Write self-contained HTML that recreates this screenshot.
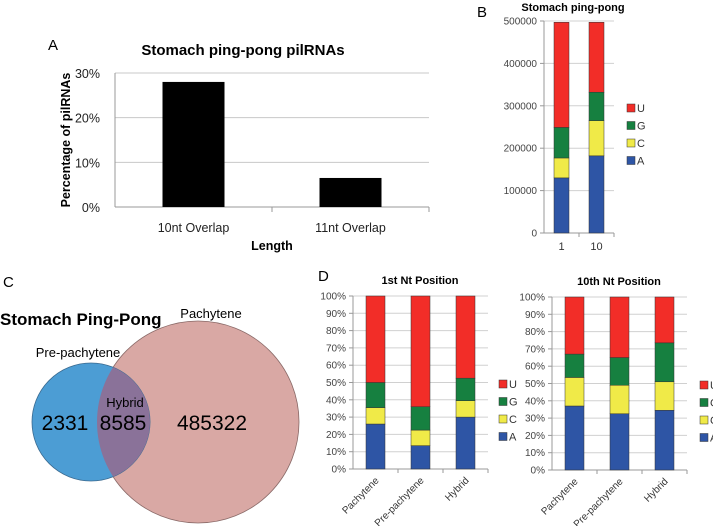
<!DOCTYPE html>
<html><head><meta charset="utf-8"><style>
body{margin:0;background:#fff;width:713px;height:526px;overflow:hidden}
svg{display:block;font-family:"Liberation Sans",sans-serif}
</style></head><body>
<svg id="s" width="713" height="526" xmlns="http://www.w3.org/2000/svg">
<g>
<circle cx="198" cy="422" r="101" fill="#d9a8a4" stroke="#8a6a68" stroke-width="0.8"/>
<circle cx="91" cy="422" r="59" fill="#4c9dd4" stroke="#3a6a90" stroke-width="0.8"/>
<clipPath id="cb"><circle cx="91" cy="422" r="59"/></clipPath>
<circle cx="198" cy="422" r="101" fill="#8a7299" clip-path="url(#cb)"/>
<text x="0" y="325" font-size="17" font-weight="bold">Stomach Ping-Pong</text>
<text x="211" y="318" font-size="13" text-anchor="middle">Pachytene</text>
<text x="78" y="357" font-size="13" text-anchor="middle">Pre-pachytene</text>
<text x="125" y="407" font-size="13" text-anchor="middle">Hybrid</text>
<text x="65" y="430" font-size="21" text-anchor="middle">2331</text>
<text x="123" y="430" font-size="21" text-anchor="middle">8585</text>
<text x="212" y="430" font-size="21" text-anchor="middle">485322</text>
</g>
<text x="3" y="287" font-size="15">C</text>
<text x="48" y="50" font-size="15">A</text>
<text x="477" y="17" font-size="15">B</text>
<text x="318" y="281" font-size="15">D</text>
</svg>
<script>
const NS="http://www.w3.org/2000/svg";
const svg=document.getElementById('s');
function mk(tag,attrs,parent,text){const e=document.createElementNS(NS,tag);for(const k in attrs)e.setAttribute(k,attrs[k]);if(text!==undefined)e.textContent=text;(parent||svg).appendChild(e);return e;}
const COLORS={A:"#2e55a5",C:"#f0ea48",G:"#168040",U:"#f22d28"};

const aCategories=["10nt Overlap","11nt Overlap"];
const aValues=[28,6.5];
const aTicks=[0,10,20,30];
const bCategories=["1","10"];
const bA=[130000,182000];
const bC=[47000,83000];
const bG=[72000,67000];
const bU=[248000,165000];
const bTicks=[0,100000,200000,300000,400000,500000];
const dCategories=["Pachytene","Pre-pachytene","Hybrid"];
const d1A=[26,13.5,30];
const d1C=[9.5,9,9.5];
const d1G=[14.5,13.5,13];
const d1U=[50,64,47.5];
const d2A=[37,32.5,34.5];
const d2C=[16.5,16.5,16.5];
const d2G=[13.5,16,22.5];
const d2U=[33,35,26.5];
const pctTicks=[0,10,20,30,40,50,60,70,80,90,100];

(function(){
 const g=mk('g',{});
 
 
 const x0=115,x1=429,y0=207,y1=73,max=30;
 const y=v=>y0-(v/max)*(y0-y1);
 const t=mk('text',{x:243,y:55,'font-size':15,'font-weight':'bold','text-anchor':'middle'},g,'Stomach ping-pong pilRNAs');
 
 aTicks.forEach(v=>{
  if(v>0){const l=mk('line',{x1:x0,x2:x1,y1:y(v),y2:y(v),stroke:'#c8c8c8'},g);}
  const tl=mk('text',{x:x0-15,y:y(v)+5,'font-size':12.5,'text-anchor':'end',fill:'#222'},g,v+'%');
  
 });
 mk('line',{x1:x0,x2:x0,y1:y1,y2:y0,stroke:'#999'},g);
 mk('line',{x1:x0,x2:x1,y1:y0,y2:y0,stroke:'#999'},g);
 const bw=(x1-x0)/aCategories.length;
 aCategories.forEach((c,i)=>{
  const cx=x0+bw*(i+0.5);
  const r=mk('rect',{x:cx-31,y:y(aValues[i]),width:62,height:y0-y(aValues[i]),fill:'#000'},g);
  
  const tl=mk('text',{x:cx,y:232,'font-size':12.5,'text-anchor':'middle',fill:'#222'},g,c);
  
  mk('line',{x1:x0+bw*(i+1),x2:x0+bw*(i+1),y1:y0,y2:y0+5,stroke:'#999'},g);
 });
 const xt=mk('text',{x:272,y:250,'font-size':12.5,'font-weight':'bold','text-anchor':'middle'},g,'Length');
 
 const yt=mk('text',{x:0,y:0,'font-size':12.5,'font-weight':'bold','text-anchor':'middle',transform:'translate(70,140) rotate(-90)'},g,'Percentage of pilRNAs');
 
})();

function stacked(name,cfg,cats,series,ticks,fmt){
 const g=mk('g',{});
 
 
 const {x0,x1,y0,y1,max,bw}=cfg;
 const y=v=>y0-(v/max)*(y0-y1);
 ticks.forEach(v=>{
  if(v>0){const l=mk('line',{x1:x0,x2:x1,y1:y(v),y2:y(v),stroke:'#d0d0d0'},g);}
  mk('line',{x1:x0-4,x2:x0,y1:y(v),y2:y(v),stroke:'#999'},g);
  const tl=mk('text',{x:x0-7,y:y(v)+3.5,'font-size':cfg.fs,'text-anchor':'end',fill:'#444'},g,fmt(v));
  
 });
 mk('line',{x1:x0,x2:x0,y1:y1,y2:y0,stroke:'#999'},g);
 mk('line',{x1:x0,x2:x1,y1:y0,y2:y0,stroke:'#999'},g);
 const step=(x1-x0)/cats.length;
 cats.forEach((c,i)=>{
  const cx=x0+step*(i+0.5);
  mk('line',{x1:x0+step*(i+1),x2:x0+step*(i+1),y1:y0,y2:y0+4,stroke:'#999'},g);
  let acc=0;
  series.forEach(s=>{
   const v=s.vals[i];
   const r=mk('rect',{x:cx-bw/2,y:y(acc+v),width:bw,height:y(acc)-y(acc+v),fill:COLORS[s.k],stroke:'#333','stroke-width':0.5},g);
   
   acc+=v;
  });
  let tl;
  if(cfg.rot){tl=mk('text',{x:0,y:0,'font-size':10,'text-anchor':'end',fill:'#333',transform:`translate(${cx+4},${y0+12}) rotate(-45)`},g,c);}
  else tl=mk('text',{x:cx,y:y0+17,'font-size':11,'text-anchor':'middle',fill:'#333'},g,c);
  
 });
 const t=mk('text',{x:cfg.tx,y:cfg.ty,'font-size':cfg.tfs,'font-weight':'bold','text-anchor':'middle'},g,cfg.title);
 
 ['U','G','C','A'].forEach((k,j)=>{
  const ly=cfg.ly+j*cfg.lstep;
  const r=mk('rect',{x:cfg.lx,y:ly-4,width:8,height:8,fill:COLORS[k],stroke:'#333','stroke-width':0.5},g);
  
  const tl=mk('text',{x:cfg.lx+10,y:ly+4,'font-size':11,fill:'#333'},g,k);
  
 });
}
stacked('chart-b',{x0:544,x1:614,y0:233,y1:21,max:500000,bw:15,fs:10,tx:573,ty:11,tfs:11,title:'Stomach ping-pong',lx:627,ly:108,lstep:17.5},
 bCategories,[{k:'A',vals:bA},{k:'C',vals:bC},{k:'G',vals:bG},{k:'U',vals:bU}],bTicks,v=>String(v));
stacked('chart-d1',{x0:353,x1:488,y0:469,y1:296,max:100,bw:19,fs:10,tx:420,ty:284,tfs:11,title:'1st Nt Position',lx:499,ly:384,lstep:17.5,rot:true},
 dCategories,[{k:'A',vals:d1A},{k:'C',vals:d1C},{k:'G',vals:d1G},{k:'U',vals:d1U}],pctTicks,v=>v+'%');
stacked('chart-d2',{x0:552,x1:687,y0:470,y1:297,max:100,bw:19,fs:10,tx:619,ty:285,tfs:11,title:'10th Nt Position',lx:700,ly:385,lstep:17.5,rot:true},
 dCategories,[{k:'A',vals:d2A},{k:'C',vals:d2C},{k:'G',vals:d2G},{k:'U',vals:d2U}],pctTicks,v=>v+'%');
</script>
</body></html>
